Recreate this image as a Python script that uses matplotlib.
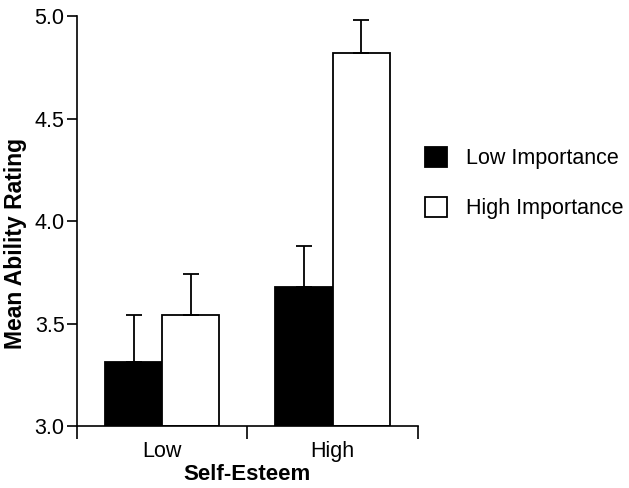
import numpy as np
import matplotlib
matplotlib.use("Agg")
from matplotlib import pyplot as plt

# datos
self_esteem = ["Low", "High"]
low_importance = [3.31, 3.68]
high_importance = [3.54, 4.82]
low_importance_err = [0.23, 0.20]
high_importance_err = [0.20, 0.16]
y_ticks = [3.0, 3.5, 4.0, 4.5, 5.0]

plt.rcParams["font.family"] = ["Liberation Sans", "DejaVu Sans"]
plt.rcParams["font.size"] = 15.5

fig = plt.figure(figsize=(6.29, 4.88), dpi=100)
ax = fig.add_axes([0.1224, 0.127, 0.542, 0.84])

x = np.arange(len(self_esteem)) + 0.5
ancho = 0.336

b1 = ax.bar(x - ancho / 2, np.array(low_importance) - 3.0, ancho, bottom=3.0,
            color="black", edgecolor="black", linewidth=1.3, label="Low Importance", zorder=2)
b2 = ax.bar(x + ancho / 2, np.array(high_importance) - 3.0, ancho, bottom=3.0,
            color="white", edgecolor="black", linewidth=1.3, label="High Importance", zorder=2)

# barras de error solo hacia arriba
ax.errorbar(x - ancho / 2, low_importance, yerr=[np.zeros(2), low_importance_err],
            fmt="none", ecolor="black", elinewidth=1.3, capsize=6, capthick=1.3, zorder=3)
ax.errorbar(x + ancho / 2, high_importance, yerr=[np.zeros(2), high_importance_err],
            fmt="none", ecolor="black", elinewidth=1.3, capsize=6, capthick=1.3, zorder=3)

ax.set_xlim(0, 2)
ax.set_ylim(3.0, 5.0)
ax.set_yticks(y_ticks)
ax.set_yticklabels([f"{v:.1f}" for v in y_ticks])

ax.set_xticks([0, 1, 2])
ax.set_xticklabels(["", "", ""])
ax.set_xticks(x, minor=True)
ax.set_xticklabels(self_esteem, minor=True)
ax.tick_params(axis="x", which="minor", length=0, pad=11)
ax.tick_params(axis="x", which="major", length=9, width=1.2, direction="out")
ax.tick_params(axis="y", length=7, width=1.2, pad=2, direction="out")

for lado in ["top", "right"]:
    ax.spines[lado].set_visible(False)
for lado in ["left", "bottom"]:
    ax.spines[lado].set_linewidth(1.2)

ax.set_xlabel("Self-Esteem", fontweight="bold", fontsize=16, labelpad=1)
ax.set_ylabel("Mean Ability Rating", fontweight="bold", fontsize=16.5)
ax.yaxis.set_label_coords(-0.147, 0.445)

fig.legend(handles=[b1, b2], loc="center left", bbox_to_anchor=(0.6757, 0.624),
           bbox_transform=fig.transFigure, frameon=False, borderpad=0, borderaxespad=0,
           handlelength=1.0, handleheight=1.0, handletextpad=0.9, labelspacing=1.3)

plt.savefig("out.png", dpi=100)
